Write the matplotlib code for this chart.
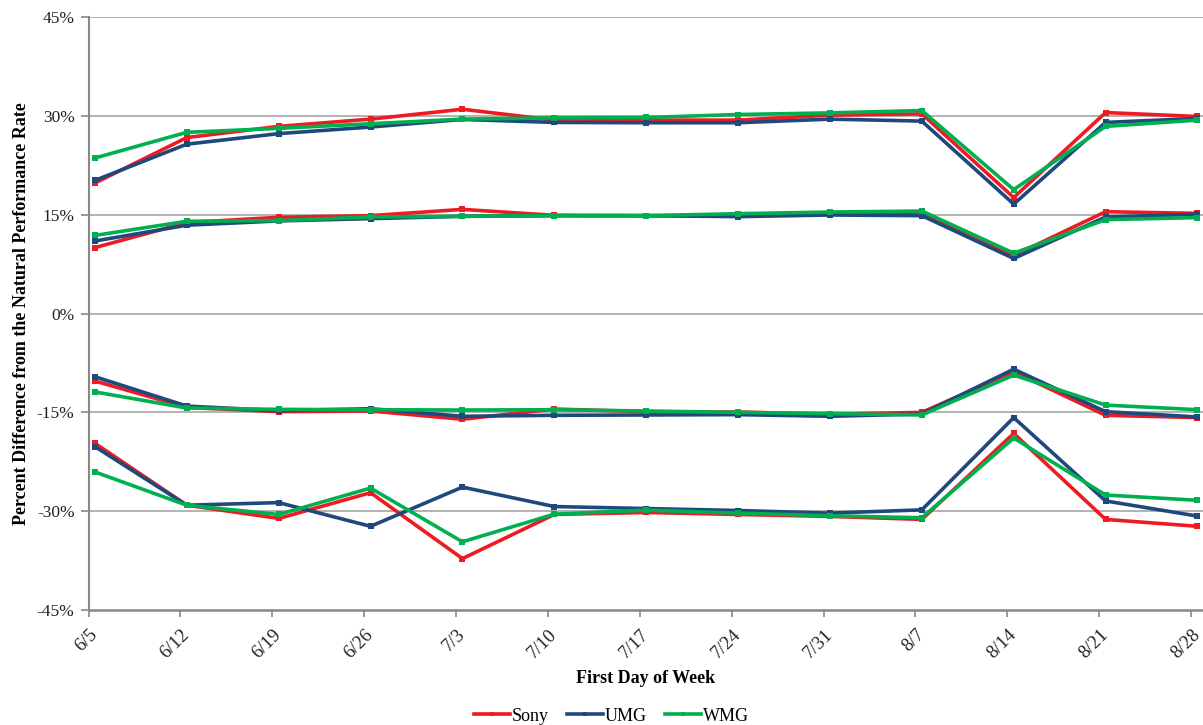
import numpy as np
import matplotlib
matplotlib.use("Agg")
import matplotlib.pyplot as plt
from matplotlib.ticker import FuncFormatter, FixedLocator, FixedFormatter, NullFormatter

weeks = ["6/5", "6/12", "6/19", "6/26", "7/3", "7/10", "7/17", "7/24", "7/31", "8/7", "8/14", "8/21", "8/28"]

# Each label has four bands of values (approx +30%, +15%, -15%, -30%)
sony_a = [19.8, 26.7, 28.4, 29.5, 31.0, 29.35, 29.35, 29.35, 30.1, 30.3, 17.6, 30.5, 29.9]
sony_b = [10.0, 13.8, 14.6, 14.85, 15.8, 14.9, 14.85, 14.9, 15.3, 15.35, 8.8, 15.45, 15.2]
sony_c = [-10.25, -14.25, -14.9, -14.8, -16.05, -14.5, -14.9, -14.95, -15.3, -15.0, -8.85, -15.45, -15.8]
sony_d = [-19.7, -29.1, -31.1, -27.2, -37.2, -30.5, -30.2, -30.5, -30.8, -31.25, -18.2, -31.25, -32.3]

umg_a = [20.2, 25.7, 27.3, 28.3, 29.45, 29.0, 28.95, 28.95, 29.5, 29.2, 16.6, 29.0, 29.6]
umg_b = [11.0, 13.4, 14.05, 14.4, 14.75, 14.85, 14.85, 14.7, 14.95, 14.85, 8.35, 14.65, 15.05]
umg_c = [-9.6, -14.05, -14.75, -14.45, -15.6, -15.45, -15.4, -15.35, -15.6, -15.25, -8.45, -14.9, -15.7]
umg_d = [-20.2, -29.1, -28.7, -32.3, -26.35, -29.3, -29.6, -29.9, -30.3, -29.8, -15.8, -28.45, -30.75]

wmg_a = [23.6, 27.5, 28.1, 28.8, 29.5, 29.7, 29.75, 30.2, 30.45, 30.8, 18.8, 28.4, 29.35]
wmg_b = [11.85, 14.0, 14.1, 14.65, 14.75, 14.85, 14.85, 15.15, 15.4, 15.55, 9.15, 14.25, 14.55]
wmg_c = [-11.9, -14.35, -14.55, -14.6, -14.65, -14.6, -14.8, -15.0, -15.2, -15.4, -9.35, -13.9, -14.6]
wmg_d = [-24.05, -29.1, -30.5, -26.5, -34.65, -30.45, -29.85, -30.3, -30.7, -31.0, -18.9, -27.55, -28.35]

y_ticks = [-45, -30, -15, 0, 15, 30, 45]

series = [
    ("Sony", "#ED1C24", [sony_a, sony_b, sony_c, sony_d]),
    ("UMG", "#1F497D", [umg_a, umg_b, umg_c, umg_d]),
    ("WMG", "#00B050", [wmg_a, wmg_b, wmg_c, wmg_d]),
]

plt.rcParams["font.family"] = ["Liberation Serif", "DejaVu Serif"]

W, H = 1203, 725
fig = plt.figure(figsize=(W / 100, H / 100), dpi=100)
ax = fig.add_axes([88.5 / W, (H - 610) / H, (W - 88.5) / W, 593 / H])

x = np.arange(len(weeks))
for name, color, bands in series:
    for i, band in enumerate(bands):
        ax.plot(x, band, color=color, lw=2.6, marker="s", ms=4,
                markeredgewidth=0, label=name if i == 0 else None,
                solid_joinstyle="miter", zorder=3)

ax.set_ylim(-45, 45)
ax.set_xlim(-0.07, 12.06)
ax.set_yticks(y_ticks)
ax.yaxis.set_major_formatter(FuncFormatter(lambda v, p: f"{int(v)}%"))
ax.grid(axis="y", color="#A6A6A6", lw=1.2, zorder=0)

# major ticks: marks only; minor ticks (at the data points): labels
ax.xaxis.set_major_locator(FixedLocator(x - 0.07))
ax.xaxis.set_major_formatter(NullFormatter())
ax.xaxis.set_minor_locator(FixedLocator(x))
ax.xaxis.set_minor_formatter(FixedFormatter(weeks))
ax.tick_params(axis="x", which="major", length=5, width=1.2, color="#888888")
ax.tick_params(axis="x", which="minor", length=0, labelsize=13.5, pad=16, labelcolor="#222222",
               labelrotation=45)
for lbl in ax.xaxis.get_minorticklabels():
    lbl.set_ha("right")
    lbl.set_va("center")
    lbl.set_rotation_mode("anchor")

for s in ["top", "right", "bottom"]:
    ax.spines[s].set_visible(False)
ax.spines["left"].set_color("#888888")
ax.spines["left"].set_linewidth(1.5)
ax.axhline(-45, color="#888888", lw=1.8, zorder=1, clip_on=False)
ax.tick_params(axis="y", length=6, width=1.2, color="#888888", labelsize=12.5, pad=4, labelcolor="#222222")

ax.set_ylabel("Percent Difference from the Natural Performance Rate", fontsize=13,
              fontweight="bold", labelpad=5)
ax.set_xlabel("First Day of Week", fontsize=13, fontweight="bold", labelpad=6)

leg = fig.legend(loc="lower center", bbox_to_anchor=(0.508, -0.022), ncol=3, frameon=False,
                 fontsize=13, handlelength=2.0, handletextpad=0.1, columnspacing=1.0,
                 markerscale=0.8)

fig.savefig("out.png", dpi=100)
